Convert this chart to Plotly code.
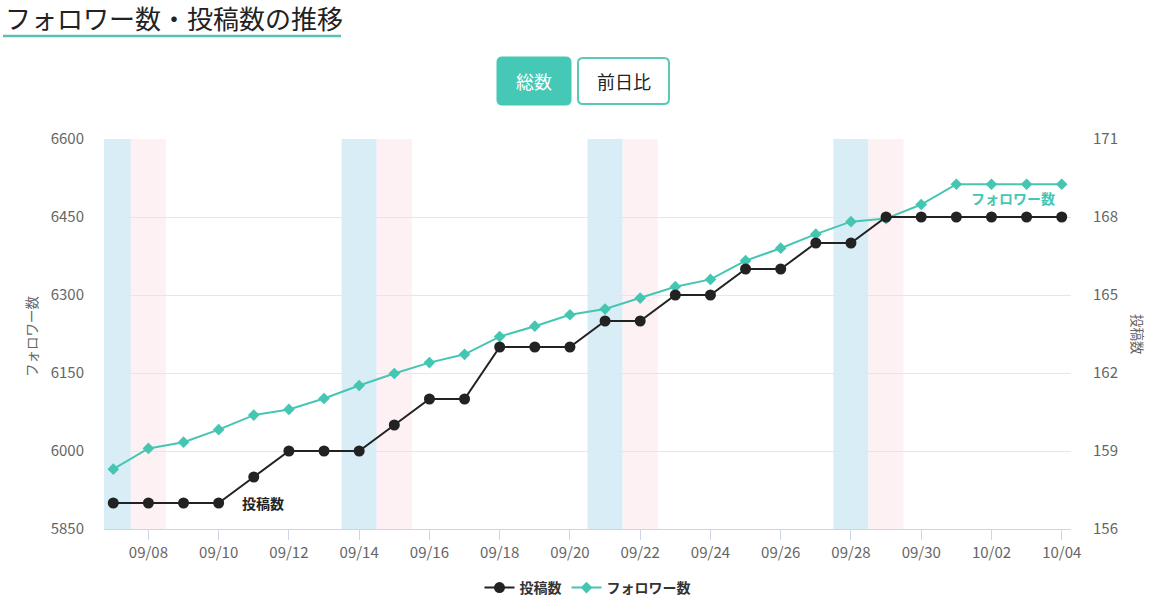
import pandas as pd
import plotly.graph_objects as go

# Data
dates = [
    "2024-09-07", "2024-09-08", "2024-09-09", "2024-09-10", "2024-09-11", "2024-09-12",
    "2024-09-13", "2024-09-14", "2024-09-15", "2024-09-16", "2024-09-17", "2024-09-18",
    "2024-09-19", "2024-09-20", "2024-09-21", "2024-09-22", "2024-09-23", "2024-09-24",
    "2024-09-25", "2024-09-26", "2024-09-27", "2024-09-28", "2024-09-29", "2024-09-30",
    "2024-10-01", "2024-10-02", "2024-10-03", "2024-10-04",
]
followers = [
    5965, 6005, 6017, 6041, 6069, 6080, 6101, 6126, 6149, 6170, 6186, 6220,
    6240, 6262, 6273, 6294, 6316, 6330, 6366, 6390, 6417, 6441, 6447, 6474,
    6513, 6513, 6513, 6513,
]
posts = [
    157, 157, 157, 157, 158, 159, 159, 159, 160, 161, 161, 163,
    163, 163, 164, 164, 165, 165, 166, 166, 167, 167, 168, 168,
    168, 168, 168, 168,
]
saturdays = ["2024-09-07", "2024-09-14", "2024-09-21", "2024-09-28"]
sundays = ["2024-09-08", "2024-09-15", "2024-09-22", "2024-09-29"]
left_ticks = [5850, 6000, 6150, 6300, 6450, 6600]
right_ticks = [156, 159, 162, 165, 168, 171]

TEAL = "#45c6b3"
BLACK = "#222222"
GRAY = "#666666"
FONT = "Noto Sans CJK JP"

W, H = 1149, 604
L, R, T, B = 104, 78, 139, 75
PW, PH = W - L - R, H - T - B


# pixel -> paper (plot-area) coords
def px(x):
    return (x - L) / PW


def py(y):
    return 1 - (y - T) / PH


half_day = pd.Timedelta(hours=12)

fig = go.Figure()

fig.add_trace(go.Scatter(
    x=dates, y=posts, yaxis="y2", name="<b>投稿数</b>",
    mode="lines+markers",
    line=dict(color=BLACK, width=2),
    marker=dict(symbol="circle", size=11, color=BLACK),
))
fig.add_trace(go.Scatter(
    x=dates, y=followers, name="<b>フォロワー数</b>",
    mode="lines+markers",
    line=dict(color=TEAL, width=2),
    marker=dict(symbol="diamond", size=9, color=TEAL),
))

shapes = []
# weekend bands (Saturday blue, Sunday pink)
for days, color in [(saturdays, "#d9edf7"), (sundays, "#fdf1f4")]:
    for d in days:
        t = pd.Timestamp(d)
        shapes.append(dict(type="rect", xref="x", yref="paper", layer="below",
                           x0=t - half_day, x1=t + half_day, y0=0, y1=1,
                           line_width=0, fillcolor=color))

# title underline
shapes.append(dict(type="line", xref="paper", yref="paper",
                   x0=px(3), x1=px(341), y0=py(36), y1=py(36),
                   line=dict(color="#5bbfb5", width=2.5)))


def round_rect(x0, y0, x1, y1, r=5):
    # rounded rect path in paper coords, from a pixel box
    def P(x, y):
        return f"{px(x)},{py(y)}"
    return (f"M {P(x0 + r, y0)} L {P(x1 - r, y0)} Q {P(x1, y0)} {P(x1, y0 + r)} "
            f"L {P(x1, y1 - r)} Q {P(x1, y1)} {P(x1 - r, y1)} "
            f"L {P(x0 + r, y1)} Q {P(x0, y1)} {P(x0, y1 - r)} "
            f"L {P(x0, y0 + r)} Q {P(x0, y0)} {P(x0 + r, y0)} Z")


shapes.append(dict(type="path", xref="paper", yref="paper",
                   path=round_rect(497, 57, 571, 105),
                   fillcolor="#45c8b5", line=dict(color="#45c8b5", width=1)))
shapes.append(dict(type="path", xref="paper", yref="paper",
                   path=round_rect(578, 58, 669, 104),
                   fillcolor="white", line=dict(color="#5cc9b8", width=2)))

annotations = [
    dict(text="フォロワー数・投稿数の推移", xref="paper", yref="paper",
         x=px(3), y=py(17), xanchor="left", yanchor="middle", showarrow=False,
         font=dict(family=FONT, size=26, color="#222222")),
    dict(text="総数", xref="paper", yref="paper", x=px(534), y=py(81),
         xanchor="center", yanchor="middle", showarrow=False,
         font=dict(family=FONT, size=18, color="white")),
    dict(text="前日比", xref="paper", yref="paper", x=px(623.5), y=py(81),
         xanchor="center", yanchor="middle", showarrow=False,
         font=dict(family=FONT, size=18, color="#222222")),
    dict(text="フォロワー数", xref="paper", yref="paper", x=px(31), y=py(336),
         xanchor="center", yanchor="middle", showarrow=False, textangle=-90,
         font=dict(family=FONT, size=13.5, color=GRAY)),
    dict(text="投稿数", xref="paper", yref="paper", x=px(1138), y=py(334),
         xanchor="center", yanchor="middle", showarrow=False, textangle=90,
         font=dict(family=FONT, size=13.5, color=GRAY)),
    # series labels
    dict(text="<b>投稿数</b>", xref="x", yref="y2",
         x=pd.Timestamp("2024-09-11") + pd.Timedelta(hours=6), y=157,
         xanchor="center", yanchor="middle", showarrow=False,
         font=dict(family=FONT, size=14, color=BLACK)),
    dict(text="<b>フォロワー数</b>", xref="x", yref="y",
         x=pd.Timestamp("2024-10-02") + pd.Timedelta(hours=15), y=6487,
         xanchor="center", yanchor="middle", showarrow=False,
         font=dict(family=FONT, size=14, color=TEAL)),
]

fig.update_layout(
    width=W, height=H,
    margin=dict(l=L, r=R, t=T, b=B, pad=0, autoexpand=False),
    paper_bgcolor="white", plot_bgcolor="white",
    font=dict(family=FONT, size=13, color=GRAY),
    shapes=shapes,
    annotations=annotations,
    showlegend=True,
    legend=dict(orientation="h", x=0.5, xanchor="center", y=1 - 588 / H, yanchor="middle",
                yref="container", font=dict(family=FONT, size=14, color="#333333"),
                traceorder="normal", itemwidth=30),
    xaxis=dict(
        type="date", automargin=False,
        range=[pd.Timestamp("2024-09-06") + pd.Timedelta(hours=17, minutes=40),
               pd.Timestamp("2024-10-04") + pd.Timedelta(hours=6, minutes=20)],
        tick0="2024-09-08", dtick=2 * 86400000, tickformat="%m/%d",
        showgrid=False, zeroline=False,
        showline=True, linecolor="#ccd6eb", linewidth=1,
        ticks="outside", ticklen=10, tickcolor="#ccd6eb",
        tickfont=dict(family=FONT, size=15, color=GRAY),
    ),
    yaxis=dict(
        range=[5850, 6600], tickvals=left_ticks, automargin=False,
        showgrid=True, gridcolor="#e6e6e6", gridwidth=1,
        zeroline=False, showline=False,
        ticks="outside", ticklen=16, tickcolor="rgba(0,0,0,0)",
        tickfont=dict(family=FONT, size=15, color=GRAY),
    ),
    yaxis2=dict(
        range=[156, 171], tickvals=right_ticks, automargin=False,
        overlaying="y", side="right",
        showgrid=False, zeroline=False, showline=False,
        ticks="outside", ticklen=18, tickcolor="rgba(0,0,0,0)",
        tickfont=dict(family=FONT, size=15, color=GRAY),
    ),
)

fig.write_html("out.html", config={"displayModeBar": False},
               post_script="document.body.style.margin='0';")
